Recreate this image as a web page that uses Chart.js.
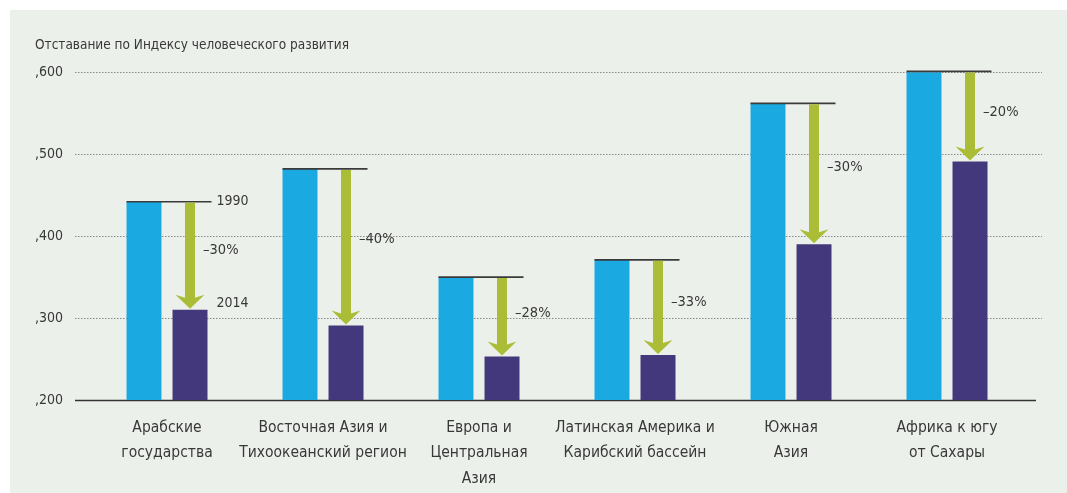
<!DOCTYPE html>
<html>
<head>
<meta charset="utf-8">
<script src="https://cdn.jsdelivr.net/npm/chart.js@4.4.1/dist/chart.umd.min.js"></script>
<style>
    body { margin: 0; background: #fff; }
    #panel { position: absolute; left: 10px; top: 10px; width: 1057px; height: 483px; background: #ecf0eb; }
</style>
</head>
<body>
<div id="panel"><canvas id="gapChart" width="1057" height="483"></canvas></div>
<script>
    // Data
    const categories = [
        ['Арабские', 'государства'],
        ['Восточная Азия и', 'Тихоокеанский регион'],
        ['Европа и', 'Центральная', 'Азия'],
        ['Латинская Америка и', 'Карибский бассейн'],
        ['Южная', 'Азия'],
        ['Африка к югу', 'от Сахары']
    ];
    const gap1990 = [0.442, 0.482, 0.350, 0.371, 0.562, 0.601];
    const gap2014 = [0.310, 0.291, 0.253, 0.255, 0.390, 0.491];
    const changeLabels = ['–30%', '–40%', '–28%', '–33%', '–30%', '–20%'];
    const yearLabels = ['1990', '2014'];
    const gridValues = [0.3, 0.4, 0.5, 0.6];

    const FONT = "'Liberation Sans Narrow', 'DejaVu Sans Condensed', sans-serif";
    const TEXT = '#383838';

    // Dotted grid lines and the base line, drawn under the bars
    const gridPlugin = {
        id: 'gridPlugin',
        beforeDatasetsDraw(chart) {
            const ctx = chart.ctx;
            const area = chart.chartArea;
            const y = chart.scales.y;
            ctx.save();
            ctx.strokeStyle = '#8a8a8a';
            ctx.lineWidth = 1;
            ctx.setLineDash([1.5, 1.5]);
            gridValues.forEach(v => {
                const py = Math.round(y.getPixelForValue(v)) + 0.5;
                ctx.beginPath();
                ctx.moveTo(area.left - 14, py);
                ctx.lineTo(area.right + 17, py);
                ctx.stroke();
            });
            ctx.setLineDash([]);
            ctx.strokeStyle = '#333';
            ctx.lineWidth = 1.5;
            const by = Math.round(y.getPixelForValue(0.2)) + 0.5;
            ctx.beginPath();
            ctx.moveTo(area.left - 14, by);
            ctx.lineTo(area.right + 11, by);
            ctx.stroke();
            ctx.restore();
        }
    };

    function drawArrow(ctx, x, yTop, yTip) {
        const shaft = 5, head = 14.5, headH = 14;
        ctx.beginPath();
        ctx.moveTo(x - shaft, yTop);
        ctx.lineTo(x + shaft, yTop);
        ctx.lineTo(x + shaft, yTip - headH + 3);
        ctx.lineTo(x + head, yTip - headH);
        ctx.lineTo(x, yTip);
        ctx.lineTo(x - head, yTip - headH);
        ctx.lineTo(x - shaft, yTip - headH + 3);
        ctx.closePath();
        ctx.fill();
    }

    // 1990 level lines, green arrows and the labels
    const arrowPlugin = {
        id: 'arrowPlugin',
        afterDatasetsDraw(chart) {
            const ctx = chart.ctx;
            const bars90 = chart.getDatasetMeta(0).data;
            const bars14 = chart.getDatasetMeta(1).data;
            ctx.save();
            bars90.forEach((light, i) => {
                const dark = bars14[i];
                const lineEnd = dark.x + dark.width / 2 + 4;
                // level line
                ctx.strokeStyle = '#3a3a3a';
                ctx.lineWidth = 1.6;
                ctx.beginPath();
                ctx.moveTo(light.x - light.width / 2, light.y);
                ctx.lineTo(lineEnd, light.y);
                ctx.stroke();
                // arrow
                ctx.fillStyle = '#abbd37';
                drawArrow(ctx, dark.x, light.y + 1, dark.y - 1);
                // labels
                ctx.fillStyle = TEXT;
                ctx.font = '14.5px ' + FONT;
                ctx.textAlign = 'left';
                ctx.textBaseline = 'middle';
                ctx.fillText(changeLabels[i], dark.x + 13, light.y + 0.45 * (dark.y - light.y));
                if (i === 0) {
                    ctx.font = '14px ' + FONT;
                    ctx.fillText(yearLabels[0], lineEnd + 5, light.y);
                    ctx.fillText(yearLabels[1], lineEnd + 5, dark.y - 6);
                }
            });
            ctx.restore();
        }
    };

    const ctx = document.getElementById('gapChart').getContext('2d');
    const gapChart = new Chart(ctx, {
        type: 'bar',
        data: {
            labels: categories,
            datasets: [{
                label: yearLabels[0],
                data: gap1990,
                backgroundColor: '#1ba9e1',
                categoryPercentage: 0.59,
                barPercentage: 0.76
            }, {
                label: yearLabels[1],
                data: gap2014,
                backgroundColor: '#43387b',
                categoryPercentage: 0.59,
                barPercentage: 0.76
            }]
        },
        options: {
            responsive: false,
            animation: false,
            layout: { padding: { left: 25, right: 42, top: 0, bottom: 0 } },
            plugins: {
                legend: { display: false },
                tooltip: { enabled: false },
                title: {
                    display: true,
                    text: 'Отставание по Индексу человеческого развития',
                    align: 'start',
                    color: TEXT,
                    font: { family: FONT, size: 13.5, weight: 'normal', lineHeight: 1.2 },
                    padding: { top: 27, bottom: 19 }
                }
            },
            scales: {
                x: {
                    grid: { display: false, drawTicks: false },
                    border: { display: false },
                    ticks: {
                        color: TEXT,
                        padding: 15,
                        maxRotation: 0,
                        autoSkip: false,
                        font: { family: FONT, size: 15.5, lineHeight: 1.65 }
                    },
                    afterFit(scale) { scale.height = 93; }
                },
                y: {
                    min: 0.2,
                    max: 0.6,
                    grid: { display: false, drawTicks: false },
                    border: { display: false },
                    ticks: {
                        stepSize: 0.1,
                        color: TEXT,
                        crossAlign: 'far',
                        font: { family: FONT, size: 14 },
                        callback: v => v.toFixed(3).replace('0.', ',')
                    },
                    afterFit(scale) { scale.width = 54; }
                }
            }
        },
        plugins: [gridPlugin, arrowPlugin]
    });
</script>
</body>
</html>
